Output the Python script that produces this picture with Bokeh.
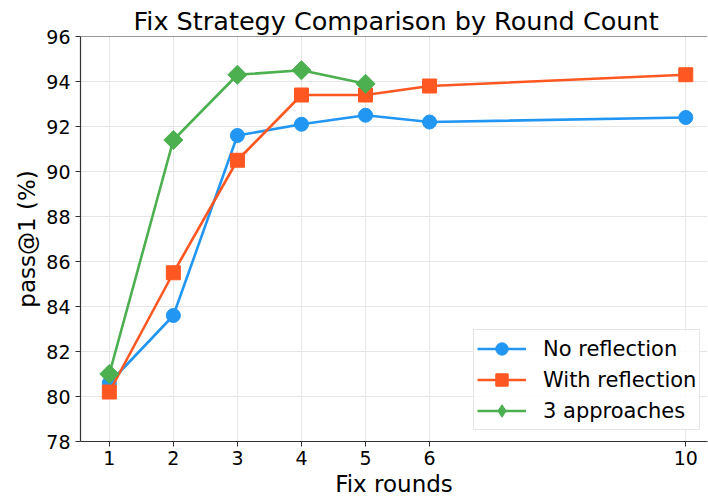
import numpy as np
from bokeh.plotting import figure
from bokeh.models import Legend, LegendItem, Span, FixedTicker, Range1d
from bokeh.embed import file_html
from bokeh.resources import INLINE

rounds = [1, 2, 3, 4, 5, 6, 10]
no_reflection = [80.6, 83.6, 91.6, 92.1, 92.5, 92.2, 92.4]
with_reflection = [80.2, 85.5, 90.5, 93.4, 93.4, 93.8, 94.3]
rounds_three = [1, 2, 3, 4, 5]
three_approaches = [81.0, 91.4, 94.3, 94.5, 93.9]
x_ticks = [1, 2, 3, 4, 5, 6, 10]
y_ticks = [78, 80, 82, 84, 86, 88, 90, 92, 94, 96]

FONT = "DejaVu Sans"
BLUE, ORANGE, GREEN = "#2196F3", "#FF5722", "#4CAF50"

p = figure(width=708, height=502, output_backend="svg", toolbar_location=None,
           x_range=Range1d(0.55, 10.339), y_range=Range1d(78, 96),
           min_border_left=80, min_border_right=1, min_border_top=36, min_border_bottom=61)
p.outline_line_color = None
p.background_fill_color = "white"
p.border_fill_color = "white"

p.title.text = "Fix Strategy Comparison by Round Count"
p.title.text_font = FONT
p.title.text_font_size = "25.5px"
p.title.text_font_style = "normal"
p.title.text_color = "black"
p.title.align = "left"
p.title.offset = 53
p.title.standoff = 2

for ax in (p.xaxis, p.yaxis):
    ax.axis_line_color = "#333333"
    ax.axis_line_width = 1.2
    ax.major_tick_line_color = "#333333"
    ax.major_tick_out = 5
    ax.major_tick_in = 0
    ax.minor_tick_line_color = None
    ax.major_label_text_font = FONT
    ax.major_label_text_font_size = "19px"
    ax.major_label_text_color = "black"
    ax.axis_label_text_font = FONT
    ax.axis_label_text_font_size = "23px"
    ax.axis_label_text_font_style = "normal"
    ax.axis_label_text_color = "black"

p.xaxis.ticker = FixedTicker(ticks=x_ticks)
p.yaxis.ticker = FixedTicker(ticks=y_ticks)
p.xaxis.major_label_standoff = 4
p.yaxis.major_label_standoff = 5
p.xaxis.axis_label = "Fix rounds"
p.xaxis.axis_label_standoff = 3
p.yaxis.axis_label = "pass@1 (%)"
p.yaxis.axis_label_standoff = 3

p.grid.grid_line_color = "#e6e6e6"
p.grid.grid_line_width = 1

p.add_layout(Span(location=96, dimension="width", line_color="#333333", line_width=1.2))

l1 = p.line(rounds, no_reflection, color=BLUE, line_width=2.6)
s1 = p.scatter(rounds, no_reflection, marker="circle", size=14, color=BLUE)
l2 = p.line(rounds, with_reflection, color=ORANGE, line_width=2.6)
s2 = p.scatter(rounds, with_reflection, marker="square", size=14, color=ORANGE)
l3 = p.line(rounds_three, three_approaches, color=GREEN, line_width=2.6)
# diamond glyph for the legend (legend markers are never rotated); hidden under the rotated squares
s3_leg = p.scatter(rounds_three, three_approaches, marker="diamond", size=13, color=GREEN)
s3 = p.scatter(rounds_three, three_approaches, marker="square", angle=np.pi / 4, size=13.5, color=GREEN)

legend = Legend(items=[
    LegendItem(label="No reflection", renderers=[l1, s1]),
    LegendItem(label="With reflection", renderers=[l2, s2]),
    LegendItem(label="3 approaches", renderers=[l3, s3_leg]),
], location=(393, 11))
legend.label_text_font = FONT
legend.label_text_font_size = "21px"
legend.label_text_color = "black"
legend.glyph_width = 49
legend.glyph_height = 31
legend.label_height = 31
legend.label_standoff = 17
legend.spacing = 0
legend.padding = 3
legend.border_line_color = "#cccccc"
legend.border_line_width = 1
legend.background_fill_alpha = 0.85
p.add_layout(legend)

open("out.html", "w").write(file_html(p, INLINE))
